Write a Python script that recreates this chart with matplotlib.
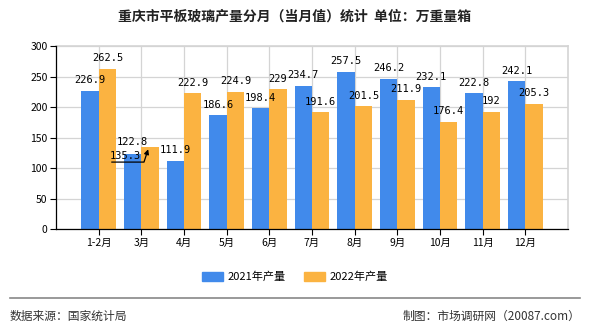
import numpy as np
import matplotlib
matplotlib.use("Agg")
import matplotlib.pyplot as plt
from matplotlib.patches import Patch

plt.rcParams['font.family'] = ['Noto Sans CJK SC', 'DejaVu Sans']

months = ['1-2月', '3月', '4月', '5月', '6月', '7月', '8月', '9月', '10月', '11月', '12月']
prod_2021 = [226.9, 122.8, 111.9, 186.6, 198.4, 234.7, 257.5, 246.2, 232.1, 222.8, 242.1]
prod_2022 = [262.5, 135.3, 222.9, 224.9, 229, 191.6, 201.5, 211.9, 176.4, 192, 205.3]
labels_2021 = ['226.9', '122.8', '111.9', '186.6', '198.4', '234.7', '257.5', '246.2', '232.1', '222.8', '242.1']
labels_2022 = ['262.5', '135.3', '222.9', '224.9', '229', '191.6', '201.5', '211.9', '176.4', '192', '205.3']
yticks = [0, 50, 100, 150, 200, 250, 300]

blue = '#418AEB'
orange = '#FBB341'
grid_c = '#d4d4d4'

fig = plt.figure(figsize=(5.9, 3.3), dpi=100)
ax = fig.add_axes([56/590, 1 - 229.3/330, 512/590, 183.3/330])

x = np.arange(len(months))
w = 0.41
ax.bar(x - w/2, prod_2021, w, color=blue, zorder=3)
ax.bar(x + w/2, prod_2022, w, color=orange, zorder=3)

ax.set_xlim(-1, 11)
ax.set_ylim(0, 300)
ax.set_yticks(yticks)
ax.set_xticks(x)
ax.set_xticklabels(months, fontsize=7.5)
ax.tick_params(axis='y', labelsize=7.5, length=4, width=0.8, pad=2)
ax.tick_params(axis='x', length=4, width=0.8, pad=2)

# grid: horizontal at y ticks, vertical at category centres plus right edge
ax.grid(axis='y', color=grid_c, linewidth=0.9, zorder=0)
ax.grid(axis='x', color=grid_c, linewidth=0.9, zorder=0)
ax.axvline(11, color=grid_c, linewidth=1.2, zorder=0, clip_on=False)
ax.axhline(300, color=grid_c, linewidth=1.2, zorder=0, clip_on=False)
for s in ['top', 'right']:
    ax.spines[s].set_visible(False)
for s in ['left', 'bottom']:
    ax.spines[s].set_linewidth(0.9)
    ax.spines[s].set_color('black')
    ax.spines[s].set_zorder(4)

lab_font = dict(fontsize=7.5, family='DejaVu Sans Mono', ha='center', va='bottom', zorder=5)
for i in range(len(months)):
    if i == 1:
        continue
    ax.annotate(labels_2021[i], (x[i] - w/2, prod_2021[i]), xytext=(0, 4),
                textcoords='offset points', **lab_font)
    ax.annotate(labels_2022[i], (x[i] + w/2, prod_2022[i]), xytext=(0, 4),
                textcoords='offset points', **lab_font)

# March labels were moved apart in the original, one with a leader arrow
ax.text(0.78, 143, labels_2021[1], fontsize=7.5, family='DejaVu Sans Mono',
        ha='center', va='center', zorder=5)
ax.text(0.62, 120, labels_2022[1], fontsize=7.5, family='DejaVu Sans Mono',
        ha='center', va='center', zorder=5)
ax.annotate('', xy=(x[1] + 0.18, prod_2022[1]), xytext=(0.24, 110),
            arrowprops=dict(arrowstyle='-|>', color='black', lw=0.9,
                            mutation_scale=7,
                            connectionstyle='angle,angleA=0,angleB=72,rad=0'),
            zorder=6)

fig.text(0.5, 1 - 17/330, '重庆市平板玻璃产量分月（当月值）统计  单位：万重量箱',
         ha='center', va='center', fontsize=10, fontweight='bold', color='#222222')

handles = [Patch(color=blue, label='2021年产量'), Patch(color=orange, label='2022年产量')]
fig.legend(handles=handles, loc='center', bbox_to_anchor=(0.5, 1 - 277/330), ncol=2,
           frameon=False, fontsize=8, handlelength=1.9, handleheight=0.8,
           columnspacing=1.6, handletextpad=0.4)

fig.add_artist(plt.Line2D([10/590, 580/590], [1 - 298/330, 1 - 298/330],
                          color='#888888', linewidth=1.2))
fig.text(10/590, 1 - 316/330, '数据来源：国家统计局', ha='left', va='center',
         fontsize=8.5, color='#333333')
fig.text(580/590, 1 - 316/330, '制图：市场调研网（20087.com）', ha='right', va='center',
         fontsize=8.5, color='#333333')

fig.savefig('out.png', dpi=100)
